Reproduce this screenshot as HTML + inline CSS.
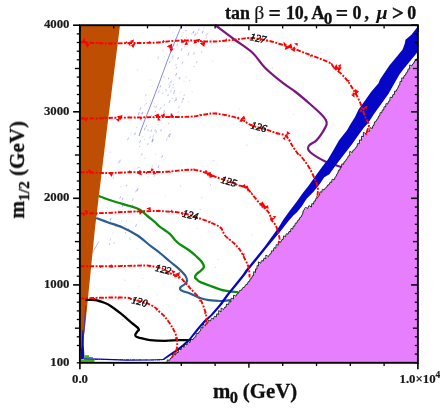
<!DOCTYPE html>
<html><head><meta charset="utf-8"><title>plot</title>
<style>html,body{margin:0;padding:0;background:#fff;}svg{display:block;}</style></head>
<body><svg width="440" height="409" viewBox="0 0 440 409" font-family="'Liberation Serif', serif">
<rect width="440" height="409" fill="#fff"/>
<!-- specks -->
<g><line x1="176.4" y1="96.9" x2="175.4" y2="99.7" stroke="#6468e2" stroke-width="0.65" opacity="0.40"/><line x1="188.4" y1="41.3" x2="187.7" y2="43.4" stroke="#6468e2" stroke-width="0.65" opacity="0.82"/><line x1="142.3" y1="153.4" x2="141.5" y2="155.4" stroke="#6468e2" stroke-width="0.65" opacity="0.66"/><line x1="168.8" y1="134.7" x2="168.1" y2="136.8" stroke="#6468e2" stroke-width="0.65" opacity="0.58"/><line x1="180.2" y1="91.6" x2="179.9" y2="92.5" stroke="#6468e2" stroke-width="0.65" opacity="0.50"/><line x1="153.9" y1="134.4" x2="152.7" y2="137.6" stroke="#6468e2" stroke-width="0.65" opacity="0.41"/><line x1="154.3" y1="117.6" x2="153.7" y2="119.3" stroke="#6468e2" stroke-width="0.65" opacity="0.83"/><line x1="204.7" y1="43.0" x2="204.2" y2="44.4" stroke="#6468e2" stroke-width="0.65" opacity="0.70"/><line x1="160.9" y1="85.1" x2="160.0" y2="87.5" stroke="#6468e2" stroke-width="0.65" opacity="0.67"/><line x1="109.8" y1="243.5" x2="109.2" y2="245.0" stroke="#6468e2" stroke-width="0.65" opacity="0.82"/><line x1="164.8" y1="103.8" x2="163.9" y2="106.4" stroke="#6468e2" stroke-width="0.65" opacity="0.41"/><line x1="189.8" y1="80.2" x2="189.4" y2="81.3" stroke="#6468e2" stroke-width="0.65" opacity="0.55"/><line x1="173.2" y1="86.8" x2="172.7" y2="88.2" stroke="#6468e2" stroke-width="0.65" opacity="0.56"/><line x1="144.8" y1="104.6" x2="144.4" y2="105.6" stroke="#6468e2" stroke-width="0.65" opacity="0.47"/><line x1="179.2" y1="77.1" x2="178.7" y2="78.4" stroke="#6468e2" stroke-width="0.65" opacity="0.42"/><line x1="148.2" y1="143.1" x2="147.5" y2="145.0" stroke="#6468e2" stroke-width="0.65" opacity="0.66"/><line x1="155.1" y1="174.1" x2="154.1" y2="176.8" stroke="#6468e2" stroke-width="0.65" opacity="0.55"/><line x1="171.1" y1="113.4" x2="170.7" y2="114.5" stroke="#6468e2" stroke-width="0.65" opacity="0.84"/><line x1="161.8" y1="122.5" x2="161.6" y2="123.1" stroke="#6468e2" stroke-width="0.65" opacity="0.43"/><line x1="174.8" y1="48.2" x2="174.4" y2="49.4" stroke="#6468e2" stroke-width="0.65" opacity="0.54"/><line x1="130.9" y1="132.9" x2="130.6" y2="133.7" stroke="#6468e2" stroke-width="0.65" opacity="0.40"/><line x1="182.4" y1="101.0" x2="181.7" y2="103.0" stroke="#6468e2" stroke-width="0.65" opacity="0.45"/><line x1="179.3" y1="106.3" x2="178.6" y2="108.3" stroke="#6468e2" stroke-width="0.65" opacity="0.60"/><line x1="158.9" y1="165.4" x2="157.9" y2="168.1" stroke="#6468e2" stroke-width="0.65" opacity="0.76"/><line x1="138.1" y1="188.0" x2="137.0" y2="191.2" stroke="#6468e2" stroke-width="0.65" opacity="0.75"/><line x1="161.4" y1="129.4" x2="160.7" y2="131.2" stroke="#6468e2" stroke-width="0.65" opacity="0.82"/><line x1="182.1" y1="48.4" x2="181.3" y2="50.6" stroke="#6468e2" stroke-width="0.65" opacity="0.80"/><line x1="134.5" y1="210.1" x2="133.5" y2="212.8" stroke="#6468e2" stroke-width="0.65" opacity="0.41"/><line x1="155.6" y1="111.1" x2="155.2" y2="112.2" stroke="#6468e2" stroke-width="0.65" opacity="0.74"/><line x1="176.5" y1="98.8" x2="176.0" y2="100.5" stroke="#6468e2" stroke-width="0.65" opacity="0.82"/><line x1="126.8" y1="184.7" x2="126.1" y2="186.5" stroke="#6468e2" stroke-width="0.65" opacity="0.68"/><line x1="139.7" y1="146.2" x2="139.4" y2="147.0" stroke="#6468e2" stroke-width="0.65" opacity="0.72"/><line x1="164.5" y1="56.5" x2="164.1" y2="57.6" stroke="#6468e2" stroke-width="0.65" opacity="0.48"/><line x1="174.6" y1="90.2" x2="173.9" y2="92.2" stroke="#6468e2" stroke-width="0.65" opacity="0.77"/><line x1="190.6" y1="39.3" x2="189.6" y2="42.1" stroke="#6468e2" stroke-width="0.65" opacity="0.61"/><line x1="107.0" y1="207.1" x2="106.8" y2="207.8" stroke="#6468e2" stroke-width="0.65" opacity="0.57"/><line x1="194.3" y1="66.1" x2="193.9" y2="67.1" stroke="#6468e2" stroke-width="0.65" opacity="0.66"/><line x1="194.4" y1="52.4" x2="193.6" y2="54.4" stroke="#6468e2" stroke-width="0.65" opacity="0.74"/><line x1="178.2" y1="49.2" x2="178.0" y2="49.9" stroke="#6468e2" stroke-width="0.65" opacity="0.40"/><line x1="146.8" y1="125.0" x2="146.0" y2="127.2" stroke="#6468e2" stroke-width="0.65" opacity="0.60"/><line x1="153.0" y1="138.2" x2="152.0" y2="140.9" stroke="#6468e2" stroke-width="0.65" opacity="0.60"/><line x1="171.8" y1="80.2" x2="170.8" y2="83.2" stroke="#6468e2" stroke-width="0.65" opacity="0.45"/><line x1="158.2" y1="124.0" x2="157.9" y2="124.8" stroke="#6468e2" stroke-width="0.65" opacity="0.47"/><line x1="203.3" y1="42.0" x2="202.4" y2="44.6" stroke="#6468e2" stroke-width="0.65" opacity="0.82"/><line x1="139.0" y1="166.9" x2="138.6" y2="168.1" stroke="#6468e2" stroke-width="0.65" opacity="0.83"/><line x1="172.2" y1="113.2" x2="171.8" y2="114.2" stroke="#6468e2" stroke-width="0.65" opacity="0.57"/><line x1="144.8" y1="138.9" x2="144.5" y2="139.8" stroke="#6468e2" stroke-width="0.65" opacity="0.53"/><line x1="175.2" y1="100.0" x2="174.7" y2="101.5" stroke="#6468e2" stroke-width="0.65" opacity="0.66"/><line x1="167.3" y1="138.2" x2="166.3" y2="141.1" stroke="#6468e2" stroke-width="0.65" opacity="0.39"/><line x1="152.2" y1="85.6" x2="151.9" y2="86.5" stroke="#6468e2" stroke-width="0.65" opacity="0.56"/><line x1="115.8" y1="225.6" x2="115.1" y2="227.5" stroke="#6468e2" stroke-width="0.65" opacity="0.60"/><line x1="183.7" y1="97.6" x2="183.1" y2="99.3" stroke="#6468e2" stroke-width="0.65" opacity="0.39"/><line x1="132.2" y1="231.5" x2="131.8" y2="232.7" stroke="#6468e2" stroke-width="0.65" opacity="0.48"/><line x1="189.0" y1="52.6" x2="187.9" y2="55.6" stroke="#6468e2" stroke-width="0.65" opacity="0.66"/><line x1="181.8" y1="35.5" x2="181.3" y2="36.7" stroke="#6468e2" stroke-width="0.65" opacity="0.44"/><line x1="150.7" y1="135.5" x2="149.5" y2="138.7" stroke="#6468e2" stroke-width="0.65" opacity="0.37"/><line x1="186.3" y1="30.0" x2="185.8" y2="31.3" stroke="#6468e2" stroke-width="0.65" opacity="0.57"/><line x1="149.9" y1="170.2" x2="149.3" y2="171.8" stroke="#6468e2" stroke-width="0.65" opacity="0.60"/><line x1="113.7" y1="176.6" x2="112.8" y2="179.1" stroke="#6468e2" stroke-width="0.65" opacity="0.42"/><line x1="102.0" y1="210.2" x2="101.8" y2="211.0" stroke="#6468e2" stroke-width="0.65" opacity="0.44"/><line x1="170.1" y1="84.9" x2="169.0" y2="88.0" stroke="#6468e2" stroke-width="0.65" opacity="0.62"/><line x1="150.4" y1="79.5" x2="150.0" y2="80.6" stroke="#6468e2" stroke-width="0.65" opacity="0.52"/><line x1="196.6" y1="44.4" x2="195.9" y2="46.3" stroke="#6468e2" stroke-width="0.65" opacity="0.35"/><line x1="173.6" y1="83.9" x2="173.1" y2="85.5" stroke="#6468e2" stroke-width="0.65" opacity="0.50"/><line x1="131.4" y1="206.6" x2="130.5" y2="209.4" stroke="#6468e2" stroke-width="0.65" opacity="0.42"/><line x1="148.0" y1="176.3" x2="147.6" y2="177.5" stroke="#6468e2" stroke-width="0.65" opacity="0.37"/><line x1="173.0" y1="55.1" x2="172.3" y2="56.9" stroke="#6468e2" stroke-width="0.65" opacity="0.38"/><line x1="186.2" y1="30.1" x2="185.9" y2="30.7" stroke="#6468e2" stroke-width="0.65" opacity="0.75"/><line x1="136.5" y1="189.9" x2="135.6" y2="192.4" stroke="#6468e2" stroke-width="0.65" opacity="0.59"/><line x1="109.4" y1="225.4" x2="109.1" y2="226.2" stroke="#6468e2" stroke-width="0.65" opacity="0.42"/><line x1="170.6" y1="81.6" x2="170.2" y2="82.6" stroke="#6468e2" stroke-width="0.65" opacity="0.59"/><line x1="135.6" y1="132.4" x2="134.7" y2="134.7" stroke="#6468e2" stroke-width="0.65" opacity="0.50"/><line x1="153.2" y1="139.1" x2="152.1" y2="142.3" stroke="#6468e2" stroke-width="0.65" opacity="0.62"/><line x1="168.4" y1="94.3" x2="167.7" y2="96.1" stroke="#6468e2" stroke-width="0.65" opacity="0.76"/><line x1="111.0" y1="238.0" x2="110.0" y2="241.0" stroke="#6468e2" stroke-width="0.65" opacity="0.39"/><line x1="184.9" y1="45.8" x2="184.5" y2="46.7" stroke="#6468e2" stroke-width="0.65" opacity="0.76"/><line x1="128.6" y1="137.4" x2="127.5" y2="140.3" stroke="#6468e2" stroke-width="0.65" opacity="0.59"/><line x1="193.6" y1="31.4" x2="193.0" y2="33.1" stroke="#6468e2" stroke-width="0.65" opacity="0.71"/><line x1="150.7" y1="117.1" x2="150.5" y2="117.7" stroke="#6468e2" stroke-width="0.65" opacity="0.73"/><line x1="119.0" y1="209.8" x2="118.5" y2="211.1" stroke="#6468e2" stroke-width="0.65" opacity="0.54"/><line x1="142.5" y1="112.0" x2="141.9" y2="113.8" stroke="#6468e2" stroke-width="0.65" opacity="0.49"/><line x1="206.6" y1="36.6" x2="205.8" y2="38.8" stroke="#6468e2" stroke-width="0.65" opacity="0.42"/><line x1="125.6" y1="232.0" x2="125.0" y2="233.7" stroke="#6468e2" stroke-width="0.65" opacity="0.66"/><line x1="158.7" y1="56.3" x2="157.6" y2="59.4" stroke="#6468e2" stroke-width="0.65" opacity="0.41"/><line x1="151.7" y1="129.4" x2="150.8" y2="131.9" stroke="#6468e2" stroke-width="0.65" opacity="0.68"/><line x1="161.8" y1="115.0" x2="161.3" y2="116.6" stroke="#6468e2" stroke-width="0.65" opacity="0.43"/><line x1="196.9" y1="61.4" x2="196.5" y2="62.6" stroke="#6468e2" stroke-width="0.65" opacity="0.80"/><line x1="176.2" y1="64.3" x2="175.7" y2="65.5" stroke="#6468e2" stroke-width="0.65" opacity="0.63"/><line x1="121.7" y1="220.3" x2="121.3" y2="221.5" stroke="#6468e2" stroke-width="0.65" opacity="0.49"/><line x1="169.5" y1="136.2" x2="169.2" y2="137.1" stroke="#6468e2" stroke-width="0.65" opacity="0.80"/><line x1="164.6" y1="110.2" x2="163.6" y2="113.0" stroke="#6468e2" stroke-width="0.65" opacity="0.79"/><line x1="203.1" y1="30.8" x2="202.1" y2="33.5" stroke="#6468e2" stroke-width="0.65" opacity="0.83"/><line x1="169.9" y1="133.3" x2="169.2" y2="135.1" stroke="#6468e2" stroke-width="0.65" opacity="0.57"/><line x1="123.1" y1="197.5" x2="122.0" y2="200.5" stroke="#6468e2" stroke-width="0.65" opacity="0.71"/><line x1="140.8" y1="167.8" x2="140.6" y2="168.4" stroke="#6468e2" stroke-width="0.65" opacity="0.41"/><line x1="184.1" y1="81.1" x2="183.8" y2="82.0" stroke="#6468e2" stroke-width="0.65" opacity="0.50"/><line x1="112.7" y1="232.6" x2="112.5" y2="233.3" stroke="#6468e2" stroke-width="0.65" opacity="0.50"/><line x1="137.2" y1="126.9" x2="136.7" y2="128.1" stroke="#6468e2" stroke-width="0.65" opacity="0.47"/><line x1="110.6" y1="219.8" x2="109.5" y2="222.8" stroke="#6468e2" stroke-width="0.65" opacity="0.46"/><line x1="192.1" y1="33.5" x2="191.5" y2="35.1" stroke="#6468e2" stroke-width="0.65" opacity="0.35"/><line x1="159.4" y1="90.0" x2="158.3" y2="93.1" stroke="#6468e2" stroke-width="0.65" opacity="0.51"/><line x1="119.5" y1="205.6" x2="119.2" y2="206.5" stroke="#6468e2" stroke-width="0.65" opacity="0.66"/><line x1="120.7" y1="159.6" x2="119.6" y2="162.7" stroke="#6468e2" stroke-width="0.65" opacity="0.42"/><line x1="165.9" y1="112.2" x2="165.6" y2="112.9" stroke="#6468e2" stroke-width="0.65" opacity="0.38"/><line x1="139.3" y1="112.1" x2="138.2" y2="115.3" stroke="#6468e2" stroke-width="0.65" opacity="0.82"/><line x1="172.7" y1="98.1" x2="172.4" y2="98.8" stroke="#6468e2" stroke-width="0.65" opacity="0.68"/><line x1="159.8" y1="108.9" x2="159.5" y2="109.8" stroke="#6468e2" stroke-width="0.65" opacity="0.39"/><line x1="177.7" y1="43.7" x2="176.8" y2="46.3" stroke="#6468e2" stroke-width="0.65" opacity="0.54"/><line x1="155.4" y1="129.7" x2="154.9" y2="131.2" stroke="#6468e2" stroke-width="0.65" opacity="0.80"/><line x1="208.0" y1="32.6" x2="207.5" y2="34.3" stroke="#6468e2" stroke-width="0.65" opacity="0.54"/><line x1="145.3" y1="127.6" x2="144.4" y2="130.2" stroke="#6468e2" stroke-width="0.65" opacity="0.80"/><line x1="170.2" y1="100.3" x2="169.2" y2="102.8" stroke="#6468e2" stroke-width="0.65" opacity="0.69"/><line x1="128.6" y1="228.4" x2="127.7" y2="230.7" stroke="#6468e2" stroke-width="0.65" opacity="0.82"/><line x1="193.8" y1="31.3" x2="193.1" y2="33.1" stroke="#6468e2" stroke-width="0.65" opacity="0.74"/><line x1="105.2" y1="199.0" x2="104.9" y2="199.6" stroke="#6468e2" stroke-width="0.65" opacity="0.82"/><line x1="163.0" y1="92.4" x2="162.4" y2="93.9" stroke="#6468e2" stroke-width="0.65" opacity="0.51"/><line x1="154.4" y1="105.2" x2="153.8" y2="106.9" stroke="#6468e2" stroke-width="0.65" opacity="0.43"/><line x1="161.7" y1="115.3" x2="161.2" y2="116.7" stroke="#6468e2" stroke-width="0.65" opacity="0.84"/><line x1="135.7" y1="118.2" x2="135.4" y2="119.2" stroke="#6468e2" stroke-width="0.65" opacity="0.58"/><line x1="126.5" y1="221.2" x2="126.2" y2="222.1" stroke="#6468e2" stroke-width="0.65" opacity="0.77"/><line x1="166.4" y1="90.3" x2="165.9" y2="91.6" stroke="#6468e2" stroke-width="0.65" opacity="0.57"/><line x1="176.8" y1="66.7" x2="176.1" y2="68.8" stroke="#6468e2" stroke-width="0.65" opacity="0.51"/><line x1="142.9" y1="112.7" x2="142.6" y2="113.6" stroke="#6468e2" stroke-width="0.65" opacity="0.58"/><line x1="206.5" y1="34.1" x2="205.9" y2="35.9" stroke="#6468e2" stroke-width="0.65" opacity="0.54"/><line x1="111.1" y1="218.0" x2="110.3" y2="220.2" stroke="#6468e2" stroke-width="0.65" opacity="0.82"/><line x1="140.8" y1="107.5" x2="139.8" y2="110.1" stroke="#6468e2" stroke-width="0.65" opacity="0.68"/><line x1="204.0" y1="27.4" x2="203.6" y2="28.6" stroke="#6468e2" stroke-width="0.65" opacity="0.53"/><line x1="178.5" y1="57.0" x2="177.6" y2="59.5" stroke="#6468e2" stroke-width="0.65" opacity="0.81"/><line x1="184.5" y1="94.4" x2="183.8" y2="96.2" stroke="#6468e2" stroke-width="0.65" opacity="0.55"/><line x1="182.9" y1="61.8" x2="182.1" y2="64.2" stroke="#6468e2" stroke-width="0.65" opacity="0.56"/><line x1="186.8" y1="37.2" x2="186.6" y2="37.9" stroke="#6468e2" stroke-width="0.65" opacity="0.73"/><line x1="169.8" y1="27.3" x2="169.5" y2="28.1" stroke="#6468e2" stroke-width="0.65" opacity="0.64"/><line x1="156.5" y1="105.9" x2="155.7" y2="107.9" stroke="#6468e2" stroke-width="0.65" opacity="0.67"/><line x1="125.2" y1="225.2" x2="124.8" y2="226.3" stroke="#6468e2" stroke-width="0.65" opacity="0.52"/><line x1="169.9" y1="61.4" x2="169.3" y2="63.3" stroke="#6468e2" stroke-width="0.65" opacity="0.75"/><line x1="136.5" y1="224.0" x2="135.5" y2="226.9" stroke="#6468e2" stroke-width="0.65" opacity="0.66"/><line x1="161.9" y1="113.5" x2="161.5" y2="114.5" stroke="#6468e2" stroke-width="0.65" opacity="0.84"/><line x1="132.7" y1="204.6" x2="131.9" y2="207.0" stroke="#6468e2" stroke-width="0.65" opacity="0.51"/><line x1="178.4" y1="111.4" x2="177.9" y2="112.8" stroke="#6468e2" stroke-width="0.65" opacity="0.56"/><line x1="155.8" y1="153.6" x2="155.4" y2="154.7" stroke="#6468e2" stroke-width="0.65" opacity="0.35"/><line x1="114.5" y1="242.0" x2="113.8" y2="243.8" stroke="#6468e2" stroke-width="0.65" opacity="0.44"/><line x1="148.3" y1="129.6" x2="147.8" y2="131.2" stroke="#6468e2" stroke-width="0.65" opacity="0.75"/><line x1="142.9" y1="136.5" x2="142.6" y2="137.3" stroke="#6468e2" stroke-width="0.65" opacity="0.72"/><line x1="120.6" y1="196.3" x2="119.8" y2="198.6" stroke="#6468e2" stroke-width="0.65" opacity="0.74"/><line x1="197.7" y1="31.7" x2="196.7" y2="34.4" stroke="#6468e2" stroke-width="0.65" opacity="0.45"/><line x1="111.0" y1="198.7" x2="110.5" y2="199.9" stroke="#6468e2" stroke-width="0.65" opacity="0.51"/><line x1="119.7" y1="160.4" x2="118.7" y2="163.4" stroke="#6468e2" stroke-width="0.65" opacity="0.45"/><line x1="169.2" y1="83.6" x2="168.8" y2="84.7" stroke="#6468e2" stroke-width="0.65" opacity="0.55"/><line x1="133.4" y1="197.9" x2="132.2" y2="201.0" stroke="#6468e2" stroke-width="0.65" opacity="0.58"/><line x1="140.6" y1="140.2" x2="139.6" y2="143.0" stroke="#6468e2" stroke-width="0.65" opacity="0.72"/><line x1="160.8" y1="107.4" x2="160.2" y2="108.9" stroke="#6468e2" stroke-width="0.65" opacity="0.73"/><line x1="168.8" y1="122.9" x2="168.3" y2="124.2" stroke="#6468e2" stroke-width="0.65" opacity="0.61"/><line x1="146.2" y1="93.9" x2="145.3" y2="96.4" stroke="#6468e2" stroke-width="0.65" opacity="0.46"/><line x1="171.3" y1="89.7" x2="170.2" y2="92.7" stroke="#6468e2" stroke-width="0.65" opacity="0.42"/><line x1="164.4" y1="75.8" x2="163.7" y2="77.8" stroke="#6468e2" stroke-width="0.65" opacity="0.50"/><line x1="152.3" y1="140.6" x2="151.9" y2="141.7" stroke="#6468e2" stroke-width="0.65" opacity="0.66"/><line x1="170.4" y1="130.0" x2="170.1" y2="131.0" stroke="#6468e2" stroke-width="0.65" opacity="0.40"/><line x1="199.2" y1="28.5" x2="198.5" y2="30.7" stroke="#6468e2" stroke-width="0.65" opacity="0.64"/><line x1="144.9" y1="157.8" x2="144.7" y2="158.5" stroke="#6468e2" stroke-width="0.65" opacity="0.62"/><line x1="151.7" y1="114.9" x2="151.4" y2="115.8" stroke="#6468e2" stroke-width="0.65" opacity="0.66"/><line x1="140.3" y1="169.8" x2="139.6" y2="171.8" stroke="#6468e2" stroke-width="0.65" opacity="0.67"/><line x1="123.0" y1="204.1" x2="121.9" y2="207.3" stroke="#6468e2" stroke-width="0.65" opacity="0.71"/><line x1="156.6" y1="130.7" x2="155.7" y2="133.2" stroke="#6468e2" stroke-width="0.65" opacity="0.58"/><line x1="152.1" y1="167.0" x2="151.6" y2="168.3" stroke="#6468e2" stroke-width="0.65" opacity="0.38"/><line x1="152.4" y1="165.3" x2="152.0" y2="166.5" stroke="#6468e2" stroke-width="0.65" opacity="0.67"/><line x1="168.8" y1="77.7" x2="168.3" y2="79.2" stroke="#6468e2" stroke-width="0.65" opacity="0.79"/><line x1="183.4" y1="98.0" x2="182.6" y2="100.4" stroke="#6468e2" stroke-width="0.65" opacity="0.68"/><line x1="173.2" y1="31.8" x2="172.7" y2="33.2" stroke="#6468e2" stroke-width="0.65" opacity="0.46"/><line x1="163.6" y1="49.4" x2="162.7" y2="51.8" stroke="#6468e2" stroke-width="0.65" opacity="0.37"/><line x1="173.3" y1="56.3" x2="172.4" y2="58.8" stroke="#6468e2" stroke-width="0.65" opacity="0.38"/><line x1="162.6" y1="155.3" x2="161.7" y2="157.6" stroke="#6468e2" stroke-width="0.65" opacity="0.79"/><line x1="202.0" y1="50.5" x2="201.1" y2="53.1" stroke="#6468e2" stroke-width="0.65" opacity="0.39"/><line x1="146.8" y1="102.8" x2="146.2" y2="104.4" stroke="#6468e2" stroke-width="0.65" opacity="0.51"/><line x1="130.1" y1="237.1" x2="129.2" y2="239.8" stroke="#6468e2" stroke-width="0.65" opacity="0.37"/><line x1="152.9" y1="139.6" x2="152.2" y2="141.6" stroke="#6468e2" stroke-width="0.65" opacity="0.46"/><line x1="170.5" y1="133.5" x2="169.4" y2="136.6" stroke="#6468e2" stroke-width="0.65" opacity="0.65"/><line x1="176.7" y1="73.0" x2="175.6" y2="76.1" stroke="#6468e2" stroke-width="0.65" opacity="0.73"/><line x1="135.1" y1="133.4" x2="134.5" y2="134.9" stroke="#6468e2" stroke-width="0.65" opacity="0.55"/><line x1="142.5" y1="112.4" x2="141.7" y2="114.7" stroke="#6468e2" stroke-width="0.65" opacity="0.54"/><line x1="174.2" y1="92.4" x2="173.6" y2="94.0" stroke="#6468e2" stroke-width="0.65" opacity="0.79"/><line x1="180.2" y1="77.2" x2="179.3" y2="79.5" stroke="#6468e2" stroke-width="0.65" opacity="0.65"/><line x1="195.6" y1="33.4" x2="194.6" y2="36.2" stroke="#6468e2" stroke-width="0.65" opacity="0.68"/><line x1="186.1" y1="76.6" x2="185.7" y2="77.8" stroke="#6468e2" stroke-width="0.65" opacity="0.45"/><rect x="158.9" y="254.4" width="0.9" height="0.9" fill="#8a8aea" opacity="0.54"/><rect x="122.9" y="78.2" width="0.9" height="0.9" fill="#8a8aea" opacity="0.30"/><rect x="165.0" y="196.1" width="0.9" height="0.9" fill="#8a8aea" opacity="0.26"/><rect x="165.4" y="88.9" width="0.9" height="0.9" fill="#8a8aea" opacity="0.59"/><rect x="263.5" y="60.8" width="0.9" height="0.9" fill="#8a8aea" opacity="0.58"/><rect x="109.9" y="151.7" width="0.9" height="0.9" fill="#8a8aea" opacity="0.59"/><rect x="191.6" y="91.2" width="0.9" height="0.9" fill="#8a8aea" opacity="0.46"/><rect x="180.1" y="38.9" width="0.9" height="0.9" fill="#8a8aea" opacity="0.36"/><rect x="207.6" y="231.6" width="0.9" height="0.9" fill="#8a8aea" opacity="0.39"/><rect x="119.7" y="222.4" width="0.9" height="0.9" fill="#8a8aea" opacity="0.36"/><rect x="190.4" y="212.8" width="0.9" height="0.9" fill="#8a8aea" opacity="0.50"/><rect x="188.2" y="101.6" width="0.9" height="0.9" fill="#8a8aea" opacity="0.49"/><rect x="251.5" y="234.6" width="0.9" height="0.9" fill="#8a8aea" opacity="0.38"/><rect x="161.7" y="230.3" width="0.9" height="0.9" fill="#8a8aea" opacity="0.24"/><rect x="187.8" y="279.9" width="0.9" height="0.9" fill="#8a8aea" opacity="0.49"/><rect x="239.3" y="108.5" width="0.9" height="0.9" fill="#8a8aea" opacity="0.37"/><rect x="196.5" y="228.1" width="0.9" height="0.9" fill="#8a8aea" opacity="0.36"/><rect x="129.9" y="238.7" width="0.9" height="0.9" fill="#8a8aea" opacity="0.51"/><rect x="180.2" y="185.7" width="0.9" height="0.9" fill="#8a8aea" opacity="0.59"/><rect x="124.4" y="279.7" width="0.9" height="0.9" fill="#8a8aea" opacity="0.58"/><rect x="212.2" y="60.6" width="0.9" height="0.9" fill="#8a8aea" opacity="0.43"/><rect x="217.6" y="259.0" width="0.9" height="0.9" fill="#8a8aea" opacity="0.40"/><rect x="212.8" y="160.1" width="0.9" height="0.9" fill="#8a8aea" opacity="0.58"/><rect x="136.5" y="248.4" width="0.9" height="0.9" fill="#8a8aea" opacity="0.36"/><rect x="271.9" y="67.4" width="0.9" height="0.9" fill="#8a8aea" opacity="0.59"/><rect x="172.1" y="46.2" width="0.9" height="0.9" fill="#8a8aea" opacity="0.31"/><rect x="182.9" y="32.3" width="0.9" height="0.9" fill="#8a8aea" opacity="0.37"/><rect x="188.0" y="252.8" width="0.9" height="0.9" fill="#8a8aea" opacity="0.34"/><rect x="150.0" y="100.3" width="0.9" height="0.9" fill="#8a8aea" opacity="0.50"/><rect x="138.6" y="286.1" width="0.9" height="0.9" fill="#8a8aea" opacity="0.36"/><rect x="136.9" y="69.6" width="0.9" height="0.9" fill="#8a8aea" opacity="0.51"/><rect x="199.9" y="209.0" width="0.9" height="0.9" fill="#8a8aea" opacity="0.29"/><rect x="321.1" y="141.7" width="0.9" height="0.9" fill="#8a8aea" opacity="0.46"/><rect x="199.7" y="122.8" width="0.9" height="0.9" fill="#8a8aea" opacity="0.42"/><rect x="115.7" y="296.5" width="0.9" height="0.9" fill="#8a8aea" opacity="0.34"/><rect x="293.4" y="114.1" width="0.9" height="0.9" fill="#8a8aea" opacity="0.35"/><rect x="147.1" y="165.2" width="0.9" height="0.9" fill="#8a8aea" opacity="0.27"/><rect x="153.9" y="106.9" width="0.9" height="0.9" fill="#8a8aea" opacity="0.32"/><rect x="202.5" y="166.0" width="0.9" height="0.9" fill="#8a8aea" opacity="0.45"/><rect x="246.5" y="144.7" width="0.9" height="0.9" fill="#8a8aea" opacity="0.57"/><rect x="294.3" y="46.4" width="0.9" height="0.9" fill="#8a8aea" opacity="0.53"/><rect x="119.4" y="295.7" width="0.9" height="0.9" fill="#8a8aea" opacity="0.45"/><rect x="146.3" y="60.7" width="0.9" height="0.9" fill="#8a8aea" opacity="0.26"/><rect x="142.2" y="278.0" width="0.9" height="0.9" fill="#8a8aea" opacity="0.34"/><rect x="122.4" y="319.1" width="0.9" height="0.9" fill="#8a8aea" opacity="0.52"/><rect x="126.1" y="314.9" width="0.9" height="0.9" fill="#8a8aea" opacity="0.44"/><rect x="290.5" y="91.6" width="0.9" height="0.9" fill="#8a8aea" opacity="0.48"/><rect x="215.0" y="266.9" width="0.9" height="0.9" fill="#8a8aea" opacity="0.38"/><rect x="149.8" y="103.4" width="0.9" height="0.9" fill="#8a8aea" opacity="0.26"/><rect x="205.8" y="46.8" width="0.9" height="0.9" fill="#8a8aea" opacity="0.39"/><rect x="120.4" y="186.2" width="0.9" height="0.9" fill="#8a8aea" opacity="0.40"/><rect x="199.7" y="209.1" width="0.9" height="0.9" fill="#8a8aea" opacity="0.47"/><rect x="290.9" y="148.7" width="0.9" height="0.9" fill="#8a8aea" opacity="0.37"/><rect x="320.4" y="52.3" width="0.9" height="0.9" fill="#8a8aea" opacity="0.45"/><rect x="240.9" y="37.2" width="0.9" height="0.9" fill="#8a8aea" opacity="0.44"/><rect x="210.1" y="184.1" width="0.9" height="0.9" fill="#8a8aea" opacity="0.56"/><rect x="93.3" y="259.3" width="0.9" height="0.9" fill="#8a8aea" opacity="0.45"/><rect x="168.0" y="305.5" width="0.9" height="0.9" fill="#8a8aea" opacity="0.35"/><rect x="201.3" y="197.2" width="0.9" height="0.9" fill="#8a8aea" opacity="0.51"/><rect x="136.6" y="168.1" width="0.9" height="0.9" fill="#8a8aea" opacity="0.37"/><rect x="156.8" y="294.5" width="0.9" height="0.9" fill="#8a8aea" opacity="0.36"/><rect x="208.4" y="115.5" width="0.9" height="0.9" fill="#8a8aea" opacity="0.40"/><rect x="279.0" y="134.5" width="0.9" height="0.9" fill="#8a8aea" opacity="0.33"/><rect x="158.3" y="216.8" width="0.9" height="0.9" fill="#8a8aea" opacity="0.45"/><rect x="277.1" y="40.9" width="0.9" height="0.9" fill="#8a8aea" opacity="0.49"/></g>
<path d="M181.6,25.5 C179.7,30.1 174.4,42.6 170.3,53.0 C166.2,63.4 161.0,78.2 157.3,88.0 C153.6,97.8 150.5,105.7 148.0,112.0 C145.5,118.3 144.0,122.0 142.5,126.0 C141.0,130.0 139.6,134.3 139.0,136.0" fill="none" stroke="#6a70e0" stroke-width="0.85"/>
<path d="M98.7,241.7 L92.5,253" stroke="#8c8ce8" stroke-width="0.6" fill="none"/>
<!-- regions -->
<polygon points="79.9,25.2 120.0,25.2 107.3,126.0 95.0,228.0 84.8,330.0 81.5,351.0 79.9,351.0" fill="#be4e01"/>
<!-- contour curves -->
<path d="M215.0,25.0 C218.1,27.3 227.4,34.4 233.7,39.0 C239.9,43.6 247.3,47.9 252.5,52.7 C257.7,57.5 260.0,62.7 265.0,67.7 C270.0,72.7 277.5,78.7 282.5,82.7 C287.5,86.7 290.4,88.0 295.0,91.5 C299.6,95.0 305.7,100.2 310.0,104.0 C314.3,107.8 318.4,111.4 321.0,114.0 C323.6,116.6 324.6,117.8 325.5,119.5 C326.4,121.2 327.2,122.1 326.6,124.4 C326.0,126.7 323.7,130.5 322.0,133.2 C320.3,135.9 318.3,138.6 316.2,140.6 C314.1,142.6 310.9,143.7 309.5,145.0 C308.1,146.3 307.9,147.4 308.0,148.6 C308.1,149.8 308.7,150.8 310.3,152.3 C311.9,153.8 314.9,155.8 317.6,157.4 C320.3,159.0 323.2,160.6 326.4,161.9 C329.6,163.2 334.2,164.7 336.7,165.5 C339.1,166.3 340.4,166.8 341.1,167.0" fill="none" stroke="#78167f" stroke-width="2.2"/>
<path d="M98.7,196.0 C101.0,196.8 107.3,199.3 112.5,201.0 C117.7,202.7 125.4,204.6 130.0,206.0 C134.6,207.4 137.1,208.0 140.0,209.7 C142.9,211.4 145.0,213.9 147.5,216.0 C150.0,218.1 152.9,220.4 155.0,222.2 C157.1,224.0 157.5,224.9 160.0,226.8 C162.5,228.7 167.4,231.7 169.8,233.8 C172.2,236.0 173.1,238.0 174.7,239.7 C176.3,241.4 177.1,242.3 179.6,244.1 C182.1,245.9 186.7,248.5 189.4,250.5 C192.1,252.5 194.0,254.2 196.0,256.0 C198.0,257.8 200.2,259.7 201.5,261.5 C202.8,263.3 204.1,265.4 203.9,267.0 C203.7,268.6 201.8,269.8 200.5,271.0 C199.2,272.2 197.1,273.4 196.2,274.5 C195.3,275.6 194.9,276.6 195.0,277.4 C195.1,278.2 196.2,278.8 197.0,279.5 C197.8,280.2 197.6,280.8 200.0,281.9 C202.4,283.0 207.5,284.8 211.7,286.3 C215.9,287.8 220.6,289.7 225.0,290.7 C229.4,291.7 236.0,291.9 238.2,292.2" fill="none" stroke="#0b8f0b" stroke-width="2.3"/>
<path d="M96.2,218.0 C98.1,218.7 103.1,220.6 107.5,222.2 C111.9,223.8 117.5,225.3 122.5,227.5 C127.5,229.7 132.9,232.5 137.5,235.5 C142.1,238.5 146.2,242.6 150.0,245.5 C153.8,248.4 156.7,250.3 160.0,253.0 C163.3,255.7 166.9,258.9 170.0,261.5 C173.1,264.1 176.0,266.2 178.6,268.6 C181.2,271.0 184.1,273.9 185.5,276.0 C186.9,278.1 187.2,279.6 187.0,281.0 C186.8,282.4 185.5,283.6 184.5,284.5 C183.5,285.4 181.8,285.9 181.0,286.7 C180.2,287.4 179.8,288.3 180.0,289.0 C180.2,289.7 180.8,290.2 182.5,291.0 C184.2,291.8 187.1,292.3 190.0,293.5 C192.9,294.7 196.9,296.9 200.0,298.0 C203.1,299.1 205.4,299.7 208.8,300.2 C212.2,300.7 216.9,301.0 220.6,301.0 C224.3,301.0 229.1,300.3 230.8,300.2" fill="none" stroke="#2c5d92" stroke-width="2.2"/>
<path d="M85.5,300.0 C87.1,300.0 91.8,299.5 95.0,300.0 C98.2,300.5 102.3,302.0 105.0,303.0 C107.7,304.0 108.3,304.4 111.0,306.2 C113.7,308.0 117.9,311.2 121.0,313.7 C124.1,316.2 126.8,318.7 129.7,321.2 C132.6,323.7 137.2,327.0 138.5,328.7 C139.8,330.4 138.0,330.2 137.5,331.2 C137.0,332.2 135.6,333.6 135.3,334.5 C135.1,335.4 135.3,335.9 136.0,336.5 C136.7,337.1 137.4,337.2 139.7,337.8 C142.0,338.4 145.8,339.6 150.0,340.1 C154.2,340.6 159.8,340.8 164.7,340.8 C169.6,340.8 175.0,340.2 179.4,340.1 C183.8,340.0 189.2,340.1 191.1,340.1" fill="none" stroke="#000" stroke-width="2.3" stroke-linejoin="round"/>
<polygon points="418.0,57.4 411.4,65.5 404.0,76.5 394.0,94.2 387.3,103.8 381.4,112.6 375.5,121.4 371.0,130.0 364.0,134.5 360.2,142.0 354.3,149.4 347.0,158.2 341.1,167.0 336.7,174.3 333.8,179.5 328.7,184.7 321.4,192.0 317.0,197.9 311.1,206.7 303.8,209.6 301.6,215.5 296.4,222.9 291.4,230.3 284.0,237.6 276.7,246.4 269.4,255.2 259.0,264.0 254.3,273.8 247.0,284.0 241.1,290.0 236.7,294.4 229.4,303.2 222.0,310.5 214.7,317.9 208.7,321.7 201.4,329.0 195.5,336.4 189.6,342.3 182.3,348.2 175.0,354.8 167.6,361.4 166.5,362.8 417.9,362.8" fill="#e67efd"/>
<polygon points="418.0,26.3 411.4,34.7 405.5,39.8 404.8,43.5 402.6,49.4 396.7,56.7 389.4,65.5 383.5,74.3 380.0,79.5 378.5,83.2 371.0,92.0 363.8,102.3 358.6,109.6 355.0,117.0 350.0,125.0 347.0,130.3 338.9,140.6 333.8,149.4 327.9,159.6 322.0,167.0 315.5,175.9 308.2,186.2 302.6,193.2 296.8,201.6 289.2,211.6 283.6,219.2 278.2,228.0 276.5,230.3 264.7,246.4 253.0,261.1 245.6,270.0 242.6,274.5 233.8,285.6 226.5,294.4 219.2,304.6 210.3,315.0 204.2,320.3 198.8,326.2 195.4,330.6 189.4,338.2 182.6,344.4 175.4,350.0 168.4,354.8 163.0,358.8 164.0,360.1 169.5,356.2 177.0,351.5 184.6,345.7 191.6,338.6 197.6,331.3 201.0,326.9 206.6,321.1 212.8,315.2 222.0,304.8 229.3,294.6 236.6,285.8 245.4,274.7 248.5,270.2 255.9,261.3 267.8,246.6 280.3,231.5 283.8,226.9 288.9,220.6 293.6,215.2 297.0,212.2 302.0,205.9 306.6,198.8 313.3,192.0 319.2,184.7 324.3,177.3 329.4,174.3 336.7,164.0 344.0,154.5 351.4,145.0 358.7,134.7 364.0,127.5 368.2,122.9 374.0,114.0 381.4,103.8 388.7,93.5 394.0,84.0 399.6,74.3 404.0,68.5 411.4,59.6 418.0,51.6" fill="#0606c6"/>
<path d="M418.3,57.7 L417.4,58.1 L416.1,60.4 L414.9,60.6 L413.9,63.1 L413.0,63.6 L411.7,65.8 L409.7,65.0 L409.6,68.9 L408.2,69.0 L407.5,72.1 L406.4,72.5 L405.4,75.2 L404.2,75.6 L403.4,78.4 L401.8,77.9 L401.6,81.6 L400.1,81.3 L399.8,84.8 L398.8,85.3 L397.9,88.1 L397.2,88.8 L396.1,91.3 L394.7,91.1 L394.3,94.5 L392.9,94.6 L392.1,97.7 L390.2,97.2 L389.8,100.9 L388.7,101.3 L387.6,104.1 L386.0,103.6 L385.6,107.0 L384.1,106.7 L383.7,110.0 L382.4,109.9 L381.7,112.9 L380.2,112.6 L379.7,115.8 L378.7,116.1 L377.8,118.8 L376.9,119.3 L375.8,121.7 L374.6,121.9 L374.0,125.1 L373.0,125.7 L372.2,128.6 L370.1,127.6 L369.6,131.4 L367.3,130.8 L366.1,133.7 L363.4,132.4 L363.4,136.7 L361.5,136.2 L361.4,140.4 L359.6,139.9 L359.3,143.8 L357.6,143.5 L357.0,146.7 L355.9,147.3 L354.6,149.7 L353.3,150.0 L352.2,152.6 L349.8,151.4 L349.7,155.6 L348.5,155.8 L347.3,158.5 L346.5,159.1 L345.3,161.4 L344.3,161.7 L343.4,164.4 L341.8,163.9 L341.4,167.3 L340.5,167.6 L339.6,170.2 L338.5,170.2 L337.9,173.1 L337.2,173.7 L336.0,176.3 L335.2,177.2 L334.1,179.8 L332.2,179.2 L331.6,182.4 L330.0,182.2 L329.0,185.0 L327.7,185.0 L326.6,187.4 L325.5,187.8 L324.1,189.9 L322.4,189.3 L321.7,192.3 L320.0,191.8 L319.5,195.2 L318.6,195.8 L317.3,198.2 L316.0,198.2 L315.3,201.1 L314.1,201.1 L313.4,204.1 L311.8,203.6 L311.4,207.0 L308.9,205.6 L307.8,208.4 L305.4,207.4 L304.1,209.9 L303.3,210.7 L302.6,213.8 L302.1,214.9 L300.9,217.3 L299.8,217.6 L298.8,220.2 L297.7,220.5 L296.7,223.2 L295.4,223.2 L294.7,226.2 L293.4,226.1 L292.7,229.1 L291.0,228.5 L290.5,231.8 L289.0,231.5 L288.0,234.2 L286.3,233.7 L285.5,236.7 L283.7,235.9 L283.1,239.4 L281.8,239.6 L280.7,242.3 L278.5,241.4 L278.2,245.2 L276.3,244.6 L275.8,248.2 L274.0,247.7 L273.3,251.1 L271.6,250.8 L270.9,254.0 L269.6,254.3 L268.4,256.6 L265.9,255.0 L265.8,258.8 L264.0,258.1 L263.2,261.0 L261.6,260.6 L260.6,263.2 L258.4,261.9 L258.5,265.9 L257.1,265.6 L256.9,269.2 L255.6,268.9 L255.4,272.5 L253.7,271.7 L253.6,275.6 L252.5,275.8 L251.5,278.5 L250.4,278.7 L249.4,281.4 L248.3,281.6 L247.3,284.3 L245.8,284.6 L244.4,287.3 L242.8,287.6 L241.4,290.3 L239.7,290.3 L238.5,293.2 L237.2,293.8 L235.8,296.2 L233.6,295.2 L233.4,299.1 L231.2,298.2 L230.9,302.0 L229.2,301.7 L228.5,304.7 L226.6,304.0 L226.0,307.2 L224.7,307.2 L223.5,309.6 L221.1,308.1 L221.1,312.0 L218.7,310.6 L218.7,314.5 L216.8,313.8 L216.2,317.0 L214.4,316.2 L213.5,319.1 L211.5,318.3 L210.5,321.1 L208.5,320.2 L207.8,323.2 L206.3,322.9 L205.4,325.7 L203.0,324.2 L202.9,328.1 L201.2,327.5 L200.5,330.8 L199.5,331.4 L198.2,333.7 L196.4,333.3 L195.8,336.7 L194.5,337.3 L192.9,339.7 L190.8,339.2 L189.9,342.6 L187.5,341.4 L187.0,345.0 L184.4,343.4 L184.1,347.3 L181.7,346.1 L181.1,349.8 L178.7,348.7 L178.2,352.5 L176.7,352.6 L175.3,355.1 L172.7,353.7 L172.3,357.7 L170.8,357.9 L169.4,360.4 L167.4,359.9 L166.8,363.1" fill="none" stroke="#111" stroke-width="0.9" stroke-linejoin="miter"/>
<!-- bottom-left corner details -->
<path d="M85.8,305 L84.3,325 L83.2,340 L82.6,350" fill="none" stroke="#3030d6" stroke-width="0.8"/>
<polygon points="82.4,330 83.3,330 83.7,346 84.2,352 84.4,358.4 80.8,359.4 80.8,351 81.6,346" fill="#0606c6"/>
<polygon points="84.3,355.3 88.9,355.3 88.9,357 93,357 93,358.3 84.3,358.3" fill="#3cb80a"/>
<rect x="80.8" y="359.4" width="13.7" height="2.6" fill="#3cb80a"/>
<path d="M84,358.8 L100,359.2 L126,360.1 L150,360 L164,359.5" fill="none" stroke="#0606c6" stroke-width="1.2"/>
<path d="M95,359.5 L163,360" fill="none" stroke="#111" stroke-width="0.6" stroke-dasharray="3 1.2 0.8 1.2"/>
<g fill="none" stroke="#ff0000" stroke-width="1.9" stroke-dasharray="4.6 1.5 1.9 1.5">
<path d="M80.0,42.0 C82.5,42.2 90.0,42.8 95.0,43.0 C100.0,43.2 103.8,43.5 110.0,43.5 C116.2,43.5 124.5,43.1 132.0,43.0 C139.5,42.9 148.3,43.0 155.0,42.7 C161.7,42.4 166.2,41.4 172.0,41.0 C177.8,40.6 182.8,40.4 190.0,40.5 C197.2,40.6 206.7,41.8 215.0,41.5 C223.3,41.2 233.8,39.6 240.0,39.0 C246.2,38.4 247.4,37.8 252.0,38.0 C256.6,38.2 262.8,39.5 267.5,40.5 C272.2,41.5 275.8,42.8 280.0,44.0 C284.2,45.2 288.3,46.5 292.5,48.0 C296.7,49.5 300.8,51.4 305.0,53.0 C309.2,54.6 313.3,56.0 317.5,57.7 C321.7,59.4 327.2,61.3 330.0,63.0 C332.8,64.7 331.9,65.6 334.4,68.0 C336.8,70.4 341.8,74.0 344.7,77.3 C347.6,80.6 349.6,83.7 352.0,87.6 C354.4,91.5 357.2,95.9 359.4,100.8 C361.6,105.7 363.6,113.1 365.2,117.0 C366.8,120.9 368.5,122.1 368.9,124.3 C369.3,126.5 367.9,128.2 367.4,130.0 C366.9,131.8 366.2,134.2 366.0,135.0"/>
<path d="M80.0,118.5 C83.3,118.5 93.8,118.4 100.0,118.3 C106.2,118.2 110.8,117.8 117.5,117.7 C124.2,117.6 132.9,117.5 140.0,117.4 C147.1,117.3 151.7,117.1 160.0,117.0 C168.3,116.9 182.5,117.1 190.0,116.7 C197.5,116.3 200.8,115.0 205.0,114.5 C209.2,114.0 210.8,113.2 215.0,113.5 C219.2,113.8 225.4,114.9 230.0,116.0 C234.6,117.1 239.0,118.5 242.5,120.0 C246.0,121.5 246.6,123.3 250.8,125.0 C255.0,126.7 263.6,128.9 267.8,130.2 C272.0,131.5 272.8,132.0 275.8,133.0 C278.8,134.0 283.2,133.8 286.0,136.0 C288.8,138.2 290.4,142.8 292.5,146.0 C294.6,149.2 297.3,153.3 298.7,155.0 C300.1,156.7 299.0,154.0 300.7,156.0 C302.4,158.0 306.5,163.2 308.8,167.0 C311.1,170.8 313.2,175.3 314.7,178.7 C316.2,182.1 317.2,185.1 317.7,187.6 C318.2,190.1 317.8,191.8 317.7,193.5 C317.6,195.2 317.1,197.2 317.0,198.0"/>
<path d="M80.0,172.2 C84.6,172.3 99.2,173.0 107.5,173.0 C115.8,173.0 122.5,172.4 130.0,172.2 C137.5,172.0 146.2,172.1 152.5,172.0 C158.8,171.9 161.2,172.1 167.5,171.7 C173.8,171.3 184.2,169.7 190.0,169.7 C195.8,169.7 197.7,170.3 202.5,171.7 C207.3,173.1 214.3,176.4 218.7,178.0 C223.1,179.6 225.9,180.3 229.0,181.5 C232.1,182.7 234.7,184.0 237.5,185.0 C240.3,186.0 243.5,185.9 246.0,187.5 C248.5,189.1 250.2,192.0 252.5,194.7 C254.8,197.4 257.3,200.7 260.0,203.7 C262.7,206.7 266.8,209.8 268.7,212.5 C270.6,215.2 270.4,217.8 271.6,220.0 C272.8,222.2 274.9,223.7 276.0,225.9 C277.1,228.1 277.6,231.0 278.2,233.2 C278.8,235.4 279.6,237.3 279.6,239.0 C279.7,240.7 278.7,242.8 278.5,243.5"/>
<path d="M80.0,213.5 C84.2,213.4 96.7,213.3 105.0,213.0 C113.3,212.7 121.7,212.0 130.0,211.7 C138.3,211.4 149.2,211.1 155.0,211.0 C160.8,210.9 160.5,211.1 165.0,211.4 C169.5,211.7 176.3,211.9 182.0,213.0 C187.7,214.1 193.9,216.5 199.0,218.2 C204.1,219.9 208.8,221.7 212.5,223.3 C216.2,224.9 218.9,226.0 221.0,228.0 C223.1,230.0 222.9,233.0 225.0,235.5 C227.1,238.0 231.2,240.6 233.7,243.0 C236.2,245.4 238.0,247.0 240.0,250.0 C242.0,253.0 244.4,257.9 245.9,261.0 C247.4,264.1 248.2,265.8 248.8,268.5 C249.4,271.2 249.5,276.0 249.6,277.5"/>
<path d="M80.0,266.2 C85.4,266.2 101.7,266.3 112.5,266.2 C123.3,266.1 137.9,265.4 145.0,265.5 C152.1,265.6 152.0,266.1 155.0,266.7 C158.0,267.3 160.3,267.8 163.0,269.0 C165.7,270.2 168.2,272.3 171.0,273.7 C173.8,275.1 177.5,275.9 180.0,277.5 C182.5,279.1 184.2,281.6 186.0,283.5 C187.8,285.4 188.7,286.6 191.0,289.2 C193.3,291.8 197.8,295.5 200.0,298.8 C202.2,302.1 203.3,305.9 204.4,309.0 C205.5,312.1 206.2,314.6 206.5,317.3 C206.8,320.0 206.3,323.7 206.3,325.0"/>
<path d="M80.0,298.5 C84.2,298.4 97.3,297.7 105.0,297.6 C112.7,297.5 121.9,297.4 126.4,297.7 C130.9,298.0 129.7,298.6 132.0,299.2 C134.3,299.8 137.3,300.6 140.0,301.3 C142.7,302.1 145.5,302.7 148.0,303.7 C150.5,304.7 153.2,306.1 154.8,307.2 C156.4,308.2 155.7,308.4 157.3,310.0 C159.0,311.6 162.2,313.8 164.7,316.6 C167.1,319.4 170.1,323.6 172.0,326.9 C173.9,330.2 175.5,333.3 176.4,336.4 C177.3,339.4 177.3,342.6 177.2,345.2 C177.1,347.8 176.6,349.8 175.7,351.8 C174.8,353.8 172.6,356.1 172.0,357.0"/>
</g>
<g><polygon points="83.8,39.9 87.3,42.7 83.4,43.8" fill="#ff0000"/><polygon points="89.7,44.1 87.1,47.8 85.1,42.9" fill="#ff0000"/><polygon points="81.8,41.9 84.8,38.0 85.4,42.7" fill="#ff0000"/><polygon points="129.5,41.0 134.0,39.6 133.2,43.1" fill="#ff0000"/><polygon points="131.0,45.2 135.9,42.6 133.2,47.9" fill="#ff0000"/><polygon points="130.4,41.5 130.4,46.5 127.6,43.2" fill="#ff0000"/><polygon points="172.2,43.6 171.8,48.8 166.7,46.5" fill="#ff0000"/><polygon points="170.9,52.0 169.4,48.0 173.9,48.7" fill="#ff0000"/><polygon points="180.9,39.3 185.6,41.7 181.4,43.2" fill="#ff0000"/><polygon points="188.1,44.6 184.4,45.3 186.3,41.1" fill="#ff0000"/><polygon points="197.2,42.7 193.5,43.7 194.7,39.8" fill="#ff0000"/><polygon points="198.7,42.4 195.5,39.7 200.2,38.7" fill="#ff0000"/><polygon points="199.8,43.2 205.3,41.6 204.3,47.0" fill="#ff0000"/><polygon points="292.3,47.8 287.2,46.8 291.2,43.3" fill="#ff0000"/><polygon points="290.0,48.8 295.6,47.9 294.5,52.1" fill="#ff0000"/><polygon points="289.9,47.8 284.7,49.9 286.0,45.2" fill="#ff0000"/><polygon points="297.6,46.0 294.0,43.6 297.6,43.0" fill="#ff0000"/><polygon points="283.8,45.6 283.4,41.6 287.0,44.9" fill="#ff0000"/><polygon points="335.8,67.0 341.8,67.5 338.7,71.7" fill="#ff0000"/><polygon points="338.2,68.7 333.3,69.3 336.4,63.9" fill="#ff0000"/><polygon points="341.1,64.0 340.4,68.2 337.8,65.8" fill="#ff0000"/><polygon points="356.0,93.1 353.0,95.9 352.4,92.6" fill="#ff0000"/><polygon points="354.9,94.9 355.0,89.1 359.1,91.5" fill="#ff0000"/><polygon points="354.6,97.7 351.0,94.8 354.3,94.1" fill="#ff0000"/><polygon points="361.9,108.2 365.3,107.8 363.7,111.0" fill="#ff0000"/><polygon points="362.6,111.7 359.4,111.7 360.8,108.5" fill="#ff0000"/><polygon points="366.7,108.9 363.3,107.3 367.4,105.8" fill="#ff0000"/><polygon points="82.6,119.5 82.7,116.4 86.0,118.2" fill="#ff0000"/><polygon points="86.9,118.2 86.3,122.0 84.2,119.1" fill="#ff0000"/><polygon points="118.9,121.7 115.7,119.6 120.0,118.3" fill="#ff0000"/><polygon points="120.8,120.1 116.8,116.5 122.6,115.1" fill="#ff0000"/><polygon points="159.3,117.7 154.2,115.4 158.6,113.6" fill="#ff0000"/><polygon points="157.4,120.5 158.1,117.0 160.6,120.4" fill="#ff0000"/><polygon points="164.8,116.9 160.6,115.9 164.6,113.0" fill="#ff0000"/><polygon points="169.8,117.7 171.3,113.3 174.5,117.2" fill="#ff0000"/><polygon points="242.4,122.0 239.2,121.6 241.7,118.6" fill="#ff0000"/><polygon points="245.7,119.4 240.9,118.7 244.0,115.4" fill="#ff0000"/><polygon points="288.2,136.4 284.5,137.7 286.6,133.8" fill="#ff0000"/><polygon points="286.8,135.1 286.8,130.9 290.4,133.5" fill="#ff0000"/><polygon points="285.0,137.3 285.2,140.6 282.3,138.0" fill="#ff0000"/><polygon points="88.7,169.1 92.3,171.5 88.2,172.5" fill="#ff0000"/><polygon points="111.4,177.0 108.7,172.0 113.6,172.3" fill="#ff0000"/><polygon points="141.9,175.5 136.8,173.2 140.1,169.8" fill="#ff0000"/><polygon points="154.0,170.0 150.6,171.5 151.7,168.0" fill="#ff0000"/><polygon points="156.1,173.8 152.7,174.8 154.5,170.8" fill="#ff0000"/><polygon points="205.9,172.8 211.1,172.0 207.9,176.3" fill="#ff0000"/><polygon points="204.6,172.6 205.8,169.7 207.8,171.7" fill="#ff0000"/><polygon points="213.9,176.6 209.4,178.1 210.2,172.5" fill="#ff0000"/><polygon points="248.7,189.3 243.0,187.7 247.7,185.5" fill="#ff0000"/><polygon points="246.1,187.8 240.7,187.1 244.8,184.0" fill="#ff0000"/><polygon points="247.5,191.6 247.1,188.7 250.4,190.4" fill="#ff0000"/><polygon points="263.4,203.1 266.4,207.0 261.5,207.9" fill="#ff0000"/><polygon points="264.2,204.8 259.1,205.6 262.5,201.3" fill="#ff0000"/><polygon points="268.7,208.7 263.1,207.4 268.0,205.3" fill="#ff0000"/><polygon points="270.9,221.4 270.2,217.1 274.6,218.5" fill="#ff0000"/><polygon points="274.7,218.9 272.9,216.0 276.1,216.0" fill="#ff0000"/><polygon points="83.0,216.2 83.2,212.7 86.0,214.2" fill="#ff0000"/><polygon points="86.2,214.6 84.5,209.9 88.3,210.8" fill="#ff0000"/><polygon points="139.9,215.1 138.3,209.4 143.1,211.6" fill="#ff0000"/><polygon points="150.5,206.9 150.9,210.8 146.4,208.4" fill="#ff0000"/><polygon points="171.3,269.7 175.5,271.4 173.0,274.0" fill="#ff0000"/><polygon points="175.0,277.8 173.0,274.3 177.3,274.9" fill="#ff0000"/><polygon points="179.0,276.7 175.1,274.0 180.0,272.0" fill="#ff0000"/><polygon points="108.9,267.3 111.2,264.0 112.8,267.8" fill="#ff0000"/><polygon points="96.5,43.1 99.5,43.1 98.6,41.7" fill="#ff0000"/><polygon points="110.0,43.5 111.7,43.5 111.0,45.0" fill="#ff0000"/><polygon points="124.6,43.2 127.4,43.1 126.9,40.9" fill="#ff0000"/><polygon points="148.7,42.8 151.0,42.8 149.2,40.7" fill="#ff0000"/><polygon points="162.8,41.9 165.1,41.7 162.9,39.5" fill="#ff0000"/><polygon points="182.7,40.7 185.2,40.6 184.7,39.3" fill="#ff0000"/><polygon points="201.1,40.9 203.6,41.0 201.7,42.7" fill="#ff0000"/><polygon points="225.3,40.5 227.3,40.3 226.2,38.1" fill="#ff0000"/><polygon points="247.0,38.4 250.1,38.2 248.4,36.8" fill="#ff0000"/><polygon points="259.4,39.2 262.2,39.6 259.8,41.4" fill="#ff0000"/><polygon points="266.5,40.2 269.0,40.9 266.6,41.8" fill="#ff0000"/><polygon points="278.4,43.5 280.2,44.1 279.6,45.6" fill="#ff0000"/><polygon points="292.3,47.9 294.9,49.0 295.1,46.4" fill="#ff0000"/><polygon points="309.5,54.7 311.5,55.4 310.6,57.2" fill="#ff0000"/><polygon points="330.1,63.1 331.8,65.0 332.3,63.3" fill="#ff0000"/><polygon points="346.7,80.1 348.2,82.3 349.9,80.1" fill="#ff0000"/><polygon points="351.2,86.5 352.7,88.6 353.3,87.5" fill="#ff0000"/><polygon points="361.5,106.6 362.5,109.4 360.7,107.9" fill="#ff0000"/><polygon points="368.1,127.3 367.3,130.3 368.7,128.3" fill="#ff0000"/><polygon points="96.1,118.3 98.0,118.3 96.6,120.1" fill="#ff0000"/><polygon points="103.1,118.2 106.1,118.1 105.1,116.4" fill="#ff0000"/><polygon points="127.7,117.6 130.3,117.5 128.8,116.4" fill="#ff0000"/><polygon points="139.4,117.4 142.5,117.4 140.8,119.9" fill="#ff0000"/><polygon points="156.6,117.1 158.8,117.0 158.3,115.3" fill="#ff0000"/><polygon points="177.8,116.8 179.7,116.8 177.9,118.0" fill="#ff0000"/><polygon points="199.2,115.4 201.0,115.1 199.7,113.6" fill="#ff0000"/><polygon points="214.7,113.5 217.6,113.9 216.1,112.2" fill="#ff0000"/><polygon points="223.8,115.0 226.1,115.4 224.7,116.2" fill="#ff0000"/><polygon points="236.2,118.0 238.9,118.9 239.0,116.5" fill="#ff0000"/><polygon points="242.9,120.3 245.3,121.7 244.3,121.9" fill="#ff0000"/><polygon points="252.2,125.4 255.1,126.3 252.1,128.2" fill="#ff0000"/><polygon points="272.6,131.9 275.2,132.8 273.9,131.6" fill="#ff0000"/><polygon points="288.4,139.6 289.7,141.7 290.5,139.6" fill="#ff0000"/><polygon points="297.0,152.5 298.3,154.4 297.0,153.7" fill="#ff0000"/><polygon points="309.1,167.6 309.9,169.2 310.8,168.2" fill="#ff0000"/><polygon points="315.6,181.5 316.6,184.3 318.2,182.7" fill="#ff0000"/><polygon points="317.4,195.7 317.1,197.5 315.9,196.7" fill="#ff0000"/><polygon points="88.8,172.5 90.9,172.5 89.3,170.1" fill="#ff0000"/><polygon points="101.3,172.8 104.0,172.9 102.8,173.9" fill="#ff0000"/><polygon points="108.7,173.0 111.0,172.9 110.0,174.8" fill="#ff0000"/><polygon points="128.5,172.2 131.5,172.2 129.6,169.9" fill="#ff0000"/><polygon points="145.4,172.1 148.4,172.0 146.5,174.0" fill="#ff0000"/><polygon points="169.0,171.6 170.7,171.4 170.6,173.3" fill="#ff0000"/><polygon points="193.2,170.2 195.1,170.5 193.9,167.7" fill="#ff0000"/><polygon points="208.8,174.2 211.8,175.3 208.7,176.8" fill="#ff0000"/><polygon points="221.7,179.0 224.4,180.0 223.8,178.1" fill="#ff0000"/><polygon points="233.8,183.5 235.4,184.1 236.1,182.0" fill="#ff0000"/><polygon points="250.0,191.9 251.6,193.7 252.0,192.2" fill="#ff0000"/><polygon points="266.7,210.5 268.3,212.1 267.9,210.6" fill="#ff0000"/><polygon points="270.8,217.9 271.7,220.3 272.6,218.0" fill="#ff0000"/><polygon points="277.5,231.0 278.2,233.1 280.2,232.0" fill="#ff0000"/><polygon points="95.7,213.2 97.4,213.2 96.6,215.5" fill="#ff0000"/><polygon points="109.9,212.7 112.2,212.6 111.4,214.1" fill="#ff0000"/><polygon points="134.7,211.6 137.0,211.5 135.9,210.5" fill="#ff0000"/><polygon points="156.5,211.1 158.7,211.1 158.7,209.4" fill="#ff0000"/><polygon points="169.5,211.8 172.5,212.1 172.0,209.6" fill="#ff0000"/><polygon points="181.3,212.8 183.8,213.5 182.0,215.7" fill="#ff0000"/><polygon points="194.3,216.8 196.3,217.4 195.9,215.1" fill="#ff0000"/><polygon points="208.7,221.9 210.6,222.6 210.5,220.6" fill="#ff0000"/><polygon points="227.4,237.5 229.3,239.2 228.3,239.2" fill="#ff0000"/><polygon points="242.0,253.7 243.5,256.4 244.9,253.6" fill="#ff0000"/><polygon points="99.5,266.2 101.9,266.2 100.3,268.2" fill="#ff0000"/><polygon points="120.5,266.0 123.0,266.0 122.7,264.7" fill="#ff0000"/><polygon points="132.7,265.8 135.8,265.7 133.9,267.0" fill="#ff0000"/><polygon points="148.3,265.9 151.4,266.3 149.2,267.6" fill="#ff0000"/><polygon points="167.6,271.7 169.9,273.0 169.4,270.9" fill="#ff0000"/><polygon points="177.9,276.6 179.9,277.5 178.5,279.2" fill="#ff0000"/><polygon points="188.2,286.0 190.0,288.0 189.9,285.5" fill="#ff0000"/><polygon points="200.1,298.9 201.0,301.2 198.6,301.4" fill="#ff0000"/><polygon points="205.1,311.8 205.8,314.4 204.1,313.9" fill="#ff0000"/><polygon points="93.0,298.0 95.5,297.9 94.1,300.4" fill="#ff0000"/><polygon points="102.1,297.7 104.3,297.6 103.0,299.1" fill="#ff0000"/><polygon points="117.2,297.7 118.8,297.7 118.5,299.7" fill="#ff0000"/><polygon points="134.2,299.8 136.1,300.3 134.3,301.5" fill="#ff0000"/><polygon points="143.2,302.3 144.9,302.8 144.3,304.3" fill="#ff0000"/><polygon points="156.0,308.5 157.3,310.0 158.4,308.2" fill="#ff0000"/><polygon points="172.6,328.1 173.4,329.9 174.3,328.2" fill="#ff0000"/><polygon points="176.4,336.5 176.7,339.7 174.7,338.3" fill="#ff0000"/></g>
<!-- contour labels -->
<g opacity="0.999">
<text x="258.2" y="37.8" transform="rotate(12 258.2 37.8)" text-anchor="middle" dominant-baseline="central" font-style="italic" font-size="10.7" fill="#0a0a0a" stroke="#0a0a0a" stroke-width="0.38">127</text>
<text x="259" y="126.5" transform="rotate(15 259 126.5)" text-anchor="middle" dominant-baseline="central" font-style="italic" font-size="10.7" fill="#0a0a0a" stroke="#0a0a0a" stroke-width="0.38">126</text>
<text x="229" y="181" transform="rotate(17 229 181)" text-anchor="middle" dominant-baseline="central" font-style="italic" font-size="10.7" fill="#0a0a0a" stroke="#0a0a0a" stroke-width="0.38">125</text>
<text x="190.5" y="214.5" transform="rotate(14 190.5 214.5)" text-anchor="middle" dominant-baseline="central" font-style="italic" font-size="10.7" fill="#0a0a0a" stroke="#0a0a0a" stroke-width="0.38">124</text>
<text x="163.3" y="269" transform="rotate(15 163.3 269)" text-anchor="middle" dominant-baseline="central" font-style="italic" font-size="10.7" fill="#0a0a0a" stroke="#0a0a0a" stroke-width="0.38">122</text>
<text x="139.7" y="301.2" transform="rotate(15 139.7 301.2)" text-anchor="middle" dominant-baseline="central" font-style="italic" font-size="10.7" fill="#0a0a0a" stroke="#0a0a0a" stroke-width="0.38">120</text>
</g>
<!-- frame -->
<rect x="79.9" y="25.2" width="338.0" height="337.6" fill="none" stroke="#000" stroke-width="1.9"/>
<line x1="76.8" y1="362.8" x2="79.9" y2="362.8" stroke="#000" stroke-width="1.3"/><line x1="414.8" y1="362.8" x2="417.9" y2="362.8" stroke="#000" stroke-width="1.3"/><line x1="414.8" y1="354.1" x2="417.9" y2="354.1" stroke="#000" stroke-width="1.3"/><line x1="76.8" y1="345.5" x2="79.9" y2="345.5" stroke="#000" stroke-width="1.3"/><line x1="414.8" y1="345.5" x2="417.9" y2="345.5" stroke="#000" stroke-width="1.3"/><line x1="76.8" y1="336.8" x2="79.9" y2="336.8" stroke="#000" stroke-width="1.3"/><line x1="414.8" y1="336.8" x2="417.9" y2="336.8" stroke="#000" stroke-width="1.3"/><line x1="74.9" y1="328.2" x2="79.9" y2="328.2" stroke="#000" stroke-width="1.4"/><line x1="412.9" y1="328.2" x2="417.9" y2="328.2" stroke="#000" stroke-width="1.4"/><line x1="76.8" y1="319.5" x2="79.9" y2="319.5" stroke="#000" stroke-width="1.3"/><line x1="414.8" y1="319.5" x2="417.9" y2="319.5" stroke="#000" stroke-width="1.3"/><line x1="76.8" y1="310.9" x2="79.9" y2="310.9" stroke="#000" stroke-width="1.3"/><line x1="414.8" y1="310.9" x2="417.9" y2="310.9" stroke="#000" stroke-width="1.3"/><line x1="76.8" y1="302.2" x2="79.9" y2="302.2" stroke="#000" stroke-width="1.3"/><line x1="414.8" y1="302.2" x2="417.9" y2="302.2" stroke="#000" stroke-width="1.3"/><line x1="76.8" y1="293.5" x2="79.9" y2="293.5" stroke="#000" stroke-width="1.3"/><line x1="414.8" y1="293.5" x2="417.9" y2="293.5" stroke="#000" stroke-width="1.3"/><line x1="73.1" y1="284.9" x2="79.9" y2="284.9" stroke="#000" stroke-width="1.6"/><line x1="411.1" y1="284.9" x2="417.9" y2="284.9" stroke="#000" stroke-width="1.6"/><line x1="76.8" y1="276.2" x2="79.9" y2="276.2" stroke="#000" stroke-width="1.3"/><line x1="414.8" y1="276.2" x2="417.9" y2="276.2" stroke="#000" stroke-width="1.3"/><line x1="76.8" y1="267.6" x2="79.9" y2="267.6" stroke="#000" stroke-width="1.3"/><line x1="414.8" y1="267.6" x2="417.9" y2="267.6" stroke="#000" stroke-width="1.3"/><line x1="76.8" y1="258.9" x2="79.9" y2="258.9" stroke="#000" stroke-width="1.3"/><line x1="414.8" y1="258.9" x2="417.9" y2="258.9" stroke="#000" stroke-width="1.3"/><line x1="76.8" y1="250.3" x2="79.9" y2="250.3" stroke="#000" stroke-width="1.3"/><line x1="414.8" y1="250.3" x2="417.9" y2="250.3" stroke="#000" stroke-width="1.3"/><line x1="74.9" y1="241.6" x2="79.9" y2="241.6" stroke="#000" stroke-width="1.4"/><line x1="412.9" y1="241.6" x2="417.9" y2="241.6" stroke="#000" stroke-width="1.4"/><line x1="76.8" y1="233.0" x2="79.9" y2="233.0" stroke="#000" stroke-width="1.3"/><line x1="414.8" y1="233.0" x2="417.9" y2="233.0" stroke="#000" stroke-width="1.3"/><line x1="76.8" y1="224.3" x2="79.9" y2="224.3" stroke="#000" stroke-width="1.3"/><line x1="414.8" y1="224.3" x2="417.9" y2="224.3" stroke="#000" stroke-width="1.3"/><line x1="76.8" y1="215.6" x2="79.9" y2="215.6" stroke="#000" stroke-width="1.3"/><line x1="414.8" y1="215.6" x2="417.9" y2="215.6" stroke="#000" stroke-width="1.3"/><line x1="76.8" y1="207.0" x2="79.9" y2="207.0" stroke="#000" stroke-width="1.3"/><line x1="414.8" y1="207.0" x2="417.9" y2="207.0" stroke="#000" stroke-width="1.3"/><line x1="73.1" y1="198.3" x2="79.9" y2="198.3" stroke="#000" stroke-width="1.6"/><line x1="411.1" y1="198.3" x2="417.9" y2="198.3" stroke="#000" stroke-width="1.6"/><line x1="76.8" y1="189.7" x2="79.9" y2="189.7" stroke="#000" stroke-width="1.3"/><line x1="414.8" y1="189.7" x2="417.9" y2="189.7" stroke="#000" stroke-width="1.3"/><line x1="76.8" y1="181.0" x2="79.9" y2="181.0" stroke="#000" stroke-width="1.3"/><line x1="414.8" y1="181.0" x2="417.9" y2="181.0" stroke="#000" stroke-width="1.3"/><line x1="76.8" y1="172.4" x2="79.9" y2="172.4" stroke="#000" stroke-width="1.3"/><line x1="414.8" y1="172.4" x2="417.9" y2="172.4" stroke="#000" stroke-width="1.3"/><line x1="76.8" y1="163.7" x2="79.9" y2="163.7" stroke="#000" stroke-width="1.3"/><line x1="414.8" y1="163.7" x2="417.9" y2="163.7" stroke="#000" stroke-width="1.3"/><line x1="74.9" y1="155.0" x2="79.9" y2="155.0" stroke="#000" stroke-width="1.4"/><line x1="412.9" y1="155.0" x2="417.9" y2="155.0" stroke="#000" stroke-width="1.4"/><line x1="76.8" y1="146.4" x2="79.9" y2="146.4" stroke="#000" stroke-width="1.3"/><line x1="414.8" y1="146.4" x2="417.9" y2="146.4" stroke="#000" stroke-width="1.3"/><line x1="76.8" y1="137.7" x2="79.9" y2="137.7" stroke="#000" stroke-width="1.3"/><line x1="414.8" y1="137.7" x2="417.9" y2="137.7" stroke="#000" stroke-width="1.3"/><line x1="76.8" y1="129.1" x2="79.9" y2="129.1" stroke="#000" stroke-width="1.3"/><line x1="414.8" y1="129.1" x2="417.9" y2="129.1" stroke="#000" stroke-width="1.3"/><line x1="76.8" y1="120.4" x2="79.9" y2="120.4" stroke="#000" stroke-width="1.3"/><line x1="414.8" y1="120.4" x2="417.9" y2="120.4" stroke="#000" stroke-width="1.3"/><line x1="73.1" y1="111.8" x2="79.9" y2="111.8" stroke="#000" stroke-width="1.6"/><line x1="411.1" y1="111.8" x2="417.9" y2="111.8" stroke="#000" stroke-width="1.6"/><line x1="76.8" y1="103.1" x2="79.9" y2="103.1" stroke="#000" stroke-width="1.3"/><line x1="414.8" y1="103.1" x2="417.9" y2="103.1" stroke="#000" stroke-width="1.3"/><line x1="76.8" y1="94.5" x2="79.9" y2="94.5" stroke="#000" stroke-width="1.3"/><line x1="414.8" y1="94.5" x2="417.9" y2="94.5" stroke="#000" stroke-width="1.3"/><line x1="76.8" y1="85.8" x2="79.9" y2="85.8" stroke="#000" stroke-width="1.3"/><line x1="414.8" y1="85.8" x2="417.9" y2="85.8" stroke="#000" stroke-width="1.3"/><line x1="76.8" y1="77.1" x2="79.9" y2="77.1" stroke="#000" stroke-width="1.3"/><line x1="414.8" y1="77.1" x2="417.9" y2="77.1" stroke="#000" stroke-width="1.3"/><line x1="74.9" y1="68.5" x2="79.9" y2="68.5" stroke="#000" stroke-width="1.4"/><line x1="412.9" y1="68.5" x2="417.9" y2="68.5" stroke="#000" stroke-width="1.4"/><line x1="76.8" y1="59.8" x2="79.9" y2="59.8" stroke="#000" stroke-width="1.3"/><line x1="414.8" y1="59.8" x2="417.9" y2="59.8" stroke="#000" stroke-width="1.3"/><line x1="76.8" y1="51.2" x2="79.9" y2="51.2" stroke="#000" stroke-width="1.3"/><line x1="414.8" y1="51.2" x2="417.9" y2="51.2" stroke="#000" stroke-width="1.3"/><line x1="76.8" y1="42.5" x2="79.9" y2="42.5" stroke="#000" stroke-width="1.3"/><line x1="414.8" y1="42.5" x2="417.9" y2="42.5" stroke="#000" stroke-width="1.3"/><line x1="76.8" y1="33.9" x2="79.9" y2="33.9" stroke="#000" stroke-width="1.3"/><line x1="414.8" y1="33.9" x2="417.9" y2="33.9" stroke="#000" stroke-width="1.3"/><line x1="73.1" y1="25.2" x2="79.9" y2="25.2" stroke="#000" stroke-width="1.6"/><line x1="411.1" y1="25.2" x2="417.9" y2="25.2" stroke="#000" stroke-width="1.6"/><line x1="79.9" y1="362.8" x2="79.9" y2="369.3" stroke="#000" stroke-width="1.6"/><line x1="79.9" y1="25.2" x2="79.9" y2="31.7" stroke="#000" stroke-width="1.6"/><line x1="113.7" y1="362.8" x2="113.7" y2="366.0" stroke="#000" stroke-width="1.3"/><line x1="113.7" y1="25.2" x2="113.7" y2="28.4" stroke="#000" stroke-width="1.3"/><line x1="147.5" y1="362.8" x2="147.5" y2="366.0" stroke="#000" stroke-width="1.3"/><line x1="147.5" y1="25.2" x2="147.5" y2="28.4" stroke="#000" stroke-width="1.3"/><line x1="181.3" y1="362.8" x2="181.3" y2="366.0" stroke="#000" stroke-width="1.3"/><line x1="181.3" y1="25.2" x2="181.3" y2="28.4" stroke="#000" stroke-width="1.3"/><line x1="215.1" y1="362.8" x2="215.1" y2="366.0" stroke="#000" stroke-width="1.3"/><line x1="215.1" y1="25.2" x2="215.1" y2="28.4" stroke="#000" stroke-width="1.3"/><line x1="248.9" y1="362.8" x2="248.9" y2="367.8" stroke="#000" stroke-width="1.4"/><line x1="248.9" y1="25.2" x2="248.9" y2="30.2" stroke="#000" stroke-width="1.4"/><line x1="282.7" y1="362.8" x2="282.7" y2="366.0" stroke="#000" stroke-width="1.3"/><line x1="282.7" y1="25.2" x2="282.7" y2="28.4" stroke="#000" stroke-width="1.3"/><line x1="316.5" y1="362.8" x2="316.5" y2="366.0" stroke="#000" stroke-width="1.3"/><line x1="316.5" y1="25.2" x2="316.5" y2="28.4" stroke="#000" stroke-width="1.3"/><line x1="350.3" y1="362.8" x2="350.3" y2="366.0" stroke="#000" stroke-width="1.3"/><line x1="350.3" y1="25.2" x2="350.3" y2="28.4" stroke="#000" stroke-width="1.3"/><line x1="384.1" y1="362.8" x2="384.1" y2="366.0" stroke="#000" stroke-width="1.3"/><line x1="384.1" y1="25.2" x2="384.1" y2="28.4" stroke="#000" stroke-width="1.3"/><line x1="417.9" y1="362.8" x2="417.9" y2="369.3" stroke="#000" stroke-width="1.6"/><line x1="417.9" y1="25.2" x2="417.9" y2="31.7" stroke="#000" stroke-width="1.6"/>
<g opacity="0.999">
<!-- tick labels -->
<g font-weight="bold" font-size="12.8" fill="#1a1a1a" stroke="#1a1a1a" stroke-width="0.2">
<text x="69.5" y="27.9" text-anchor="end">4000</text>
<text x="69.5" y="114.5" text-anchor="end">3000</text>
<text x="69.5" y="201.1" text-anchor="end">2000</text>
<text x="69.5" y="287.7" text-anchor="end">1000</text>
<text x="69.5" y="365.8" text-anchor="end">100</text>
<text x="80" y="382.6" text-anchor="middle">0.0</text>
<text x="399.5" y="382.6">1.0×10<tspan dy="-4.5" font-size="9.5">4</tspan></text>
</g>
<!-- title -->
<g font-weight="bold" font-size="17.9" fill="#111" stroke="#111" stroke-width="0.3" id="title">
<text x="225" y="18.8">tan</text>
<text transform="translate(254.3,18.8) scale(1.1,1)" font-weight="normal" stroke-width="0.15">β</text>
<text x="268.3" y="21.0" font-size="22.5" stroke="none">=</text>
<text x="285.9" y="18.8">10,</text>
<text x="311.4" y="18.8">A</text>
<text x="323.7" y="23.9" font-size="17.3">0</text>
<text x="335.4" y="21.0" font-size="22.5" stroke="none">=</text>
<text x="352.4" y="18.8">0</text>
<text x="364.4" y="18.8">,</text>
<text transform="translate(376.6,18.8) scale(1.12,1)" font-style="italic" stroke="none">μ</text>
<text x="392" y="19.8" font-size="20.5" stroke-width="0.5">&gt;</text>
<text x="407.3" y="18.8">0</text>
</g>
<!-- axis labels -->
<g stroke="#111" stroke-width="0.3">
<text x="213" y="398" font-weight="bold" font-size="20.8" fill="#111">m<tspan dy="4.6" dx="-0.5" font-size="16.5">0</tspan><tspan dy="-4.6" dx="-0.4"> (GeV)</tspan></text>
<text transform="translate(24,218.5) rotate(-90)" font-weight="bold" font-size="21" fill="#111">m<tspan dy="5" font-size="15.5">1/2</tspan><tspan dy="-5"> (GeV)</tspan></text>
</g>
</g>
</svg></body></html>
